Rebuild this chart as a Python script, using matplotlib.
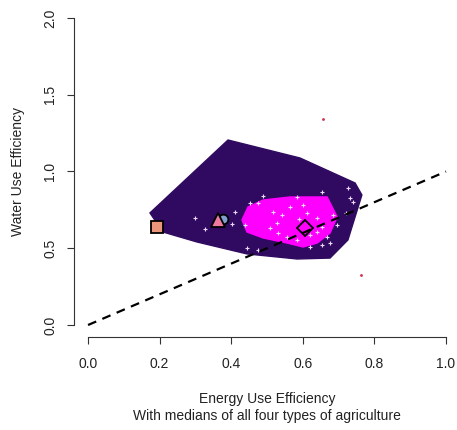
import numpy as np
import matplotlib.pyplot as plt

plt.rcParams['font.family'] = ['Liberation Sans', 'DejaVu Sans']

# outer hull (loop) and inner bag of the bagplot
loop_x = [0.173, 0.209, 0.304, 0.444, 0.584, 0.676, 0.726, 0.765, 0.746, 0.592, 0.391]
loop_y = [0.730, 0.606, 0.541, 0.463, 0.430, 0.436, 0.554, 0.847, 0.925, 1.088, 1.205]

bag_x = [0.430, 0.447, 0.489, 0.564, 0.668, 0.696, 0.676, 0.640, 0.601, 0.556, 0.489, 0.444]
bag_y = [0.684, 0.769, 0.814, 0.834, 0.834, 0.704, 0.599, 0.534, 0.508, 0.534, 0.567, 0.606]

# individual observations
obs_x = [0.489, 0.475, 0.453, 0.584, 0.654, 0.726, 0.732, 0.740, 0.721, 0.411,
         0.299, 0.327, 0.402, 0.517, 0.542, 0.528, 0.508, 0.556, 0.584, 0.620,
         0.640, 0.654, 0.668, 0.676, 0.654, 0.620, 0.444, 0.475, 0.564, 0.612,
         0.640, 0.684, 0.696, 0.439, 0.600, 0.590, 0.530]
obs_y = [0.840, 0.795, 0.795, 0.834, 0.866, 0.893, 0.827, 0.801, 0.730, 0.736,
         0.697, 0.625, 0.658, 0.736, 0.717, 0.664, 0.632, 0.573, 0.554, 0.586,
         0.606, 0.638, 0.573, 0.534, 0.521, 0.508, 0.502, 0.489, 0.769, 0.730,
         0.697, 0.717, 0.651, 0.651, 0.780, 0.690, 0.600]

# outliers
out_x = [0.656, 0.763]
out_y = [1.342, 0.326]

# medians of the four agriculture types
med_x = [0.193, 0.378, 0.363, 0.606]
med_y = [0.638, 0.692, 0.684, 0.632]
med_marker = ['s', 'o', '^', 'D']
med_color = ['#E9967A', '#7F9FD0', '#EE7AA0', 'none']
med_size = [9, 7, 10.5, 8]

fig = plt.figure(figsize=(4.57, 4.30), dpi=100)
ax = fig.add_axes([0.1613, 0.2156, 0.846, 0.7712])

ax.fill(loop_x, loop_y, color='#300A60', zorder=1)
ax.fill(bag_x, bag_y, color='#FF00FF', zorder=2)
ax.plot(obs_x, obs_y, '+', color='#EED8FF', ms=3.5, mew=0.8, zorder=3)
ax.plot(out_x, out_y, '.', color='#D0304A', ms=2, zorder=3)

ax.plot([0, 1], [0, 1], color='black', lw=1.6, ls=(0, (4, 3)), zorder=4)

for mx, my, mk, mc, ms in zip(med_x, med_y, med_marker, med_color, med_size):
    ax.plot(mx, my, marker=mk, color=mc, mfc=mc, mec='black', mew=1.3, ms=ms,
            ls='none', zorder=5)

ax.set_xlim(-0.04, 1.04)
ax.set_ylim(-0.08, 2.08)
ax.set_xticks(np.arange(0, 1.01, 0.2))
ax.set_yticks(np.arange(0, 2.01, 0.5))
ax.set_xticklabels(['%.1f' % v for v in np.arange(0, 1.01, 0.2)])
ax.set_yticklabels(['%.1f' % v for v in np.arange(0, 2.01, 0.5)], rotation=90, va='center')
ax.tick_params(length=5, width=0.8, pad=7, labelsize=10, color='#333333', labelcolor='#222222')
ax.tick_params(axis='x', pad=9)

for s in ['top', 'right']:
    ax.spines[s].set_visible(False)
ax.spines['left'].set_bounds(0, 2)
ax.spines['bottom'].set_bounds(0, 1)
ax.spines['left'].set_color('#333333')
ax.spines['bottom'].set_color('#333333')

ax.set_xlabel('Energy Use Efficiency\nWith medians of all four types of agriculture',
              fontsize=10, linespacing=1.25, color='#222222')
ax.xaxis.set_label_coords(0.5, -0.165)
ax.set_ylabel('Water Use Efficiency', fontsize=10, color='#222222')
ax.yaxis.set_label_coords(-0.125, 0.5)

fig.savefig('out.png', dpi=100)
